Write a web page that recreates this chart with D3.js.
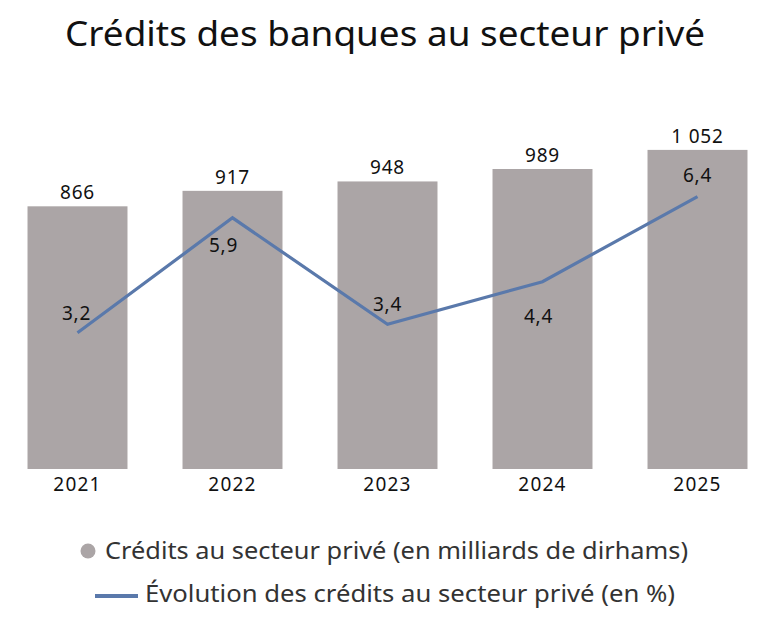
<!DOCTYPE html>
<html>
<head>
<meta charset="utf-8">
<script src="https://cdn.jsdelivr.net/npm/d3@7"></script>
<style>
  body { margin: 0; background: #fff; }
  text { font-family: "Noto Sans", sans-serif; fill: #111; }
</style>
</head>
<body>
<div id="chart"></div>
<script>
// -------- data ---------- //
var years = ["2021", "2022", "2023", "2024", "2025"];
var credits = [866, 917, 948, 989, 1052];        // milliards de dirhams
var growth = [3.2, 5.9, 3.4, 4.4, 6.4];          // en %
var creditLabels = ["866", "917", "948", "989", "1 052"];
var growthLabels = ["3,2", "5,9", "3,4", "4,4", "6,4"];

var barColor = "#aba5a6";
var lineColor = "#5a79ab";

var width = 768;
var height = 621;

var svg = d3
  .select("#chart")
  .append("svg")
  .attr("width", width)
  .attr("height", height);

// title
svg
  .append("text")
  .attr("x", 65)
  .attr("y", 46)
  .attr("textLength", 640)
  .attr("lengthAdjust", "spacingAndGlyphs")
  .style("font-size", "35px")
  .text("Crédits des banques au secteur privé");

// scales
var x = d3
  .scaleBand()
  .domain(years)
  .range([0, 775])
  .paddingInner(0.355)
  .paddingOuter(0.1775);

var yBar = d3.scaleLinear().domain([0, 1200]).range([469, 105]);
var yLine = d3.scaleLinear().domain([0, 8.55]).range([469, 105]);

// bars
svg
  .append("g")
  .selectAll("rect")
  .data(credits)
  .join("rect")
  .attr("x", (d, i) => x(years[i]))
  .attr("y", (d) => yBar(d))
  .attr("width", x.bandwidth())
  .attr("height", (d) => yBar(0) - yBar(d))
  .attr("fill", barColor);

// bar value labels
svg
  .append("g")
  .selectAll("text")
  .data(credits)
  .join("text")
  .attr("x", (d, i) => x(years[i]) + x.bandwidth() / 2)
  .attr("y", (d) => yBar(d) - 7)
  .attr("text-anchor", "middle")
  .style("font-size", "19px")
  .style("letter-spacing", "0.8px")
  .text((d, i) => creditLabels[i]);

// x axis labels
var axis = svg
  .append("g")
  .attr("transform", "translate(0," + yBar(0) + ")")
  .call(d3.axisBottom(x).tickSize(0).tickPadding(9));
axis.select(".domain").remove();
axis
  .selectAll("text")
  .style("font-size", "19px")
  .style("letter-spacing", "1.2px")
  .style("font-family", "'Noto Sans', sans-serif")
  .attr("fill", "#111");

// growth line
var line = d3
  .line()
  .x((d, i) => x(years[i]) + x.bandwidth() / 2)
  .y((d) => yLine(d));

svg
  .append("path")
  .datum(growth)
  .attr("d", line)
  .attr("fill", "none")
  .attr("stroke", lineColor)
  .attr("stroke-width", 3.2)
  .attr("stroke-linejoin", "miter");

// line value labels: offsets (dx, dy) from each point
var labelOffsets = [
  [-1, -13],
  [-9, 34],
  [0, -13],
  [-4, 41],
  [0, -15],
];
svg
  .append("g")
  .selectAll("text")
  .data(growth)
  .join("text")
  .attr("x", (d, i) => x(years[i]) + x.bandwidth() / 2 + labelOffsets[i][0])
  .attr("y", (d, i) => yLine(d) + labelOffsets[i][1])
  .attr("text-anchor", "middle")
  .style("font-size", "19px")
  .style("letter-spacing", "0.8px")
  .text((d, i) => growthLabels[i]);

// legend
var legend = svg.append("g");
legend
  .append("circle")
  .attr("cx", 88)
  .attr("cy", 551)
  .attr("r", 7.5)
  .attr("fill", barColor);
legend
  .append("text")
  .attr("x", 105)
  .attr("y", 559)
  .attr("textLength", 583)
  .attr("lengthAdjust", "spacingAndGlyphs")
  .style("font-size", "23px")
  .style("fill", "#333")
  .text("Crédits au secteur privé (en milliards de dirhams)");
legend
  .append("line")
  .attr("x1", 95)
  .attr("x2", 138)
  .attr("y1", 596)
  .attr("y2", 596)
  .attr("stroke", lineColor)
  .attr("stroke-width", 4);
legend
  .append("text")
  .attr("x", 145)
  .attr("y", 602)
  .attr("textLength", 530)
  .attr("lengthAdjust", "spacingAndGlyphs")
  .style("font-size", "23px")
  .style("fill", "#333")
  .text("Évolution des crédits au secteur privé (en %)");
</script>
</body>
</html>
